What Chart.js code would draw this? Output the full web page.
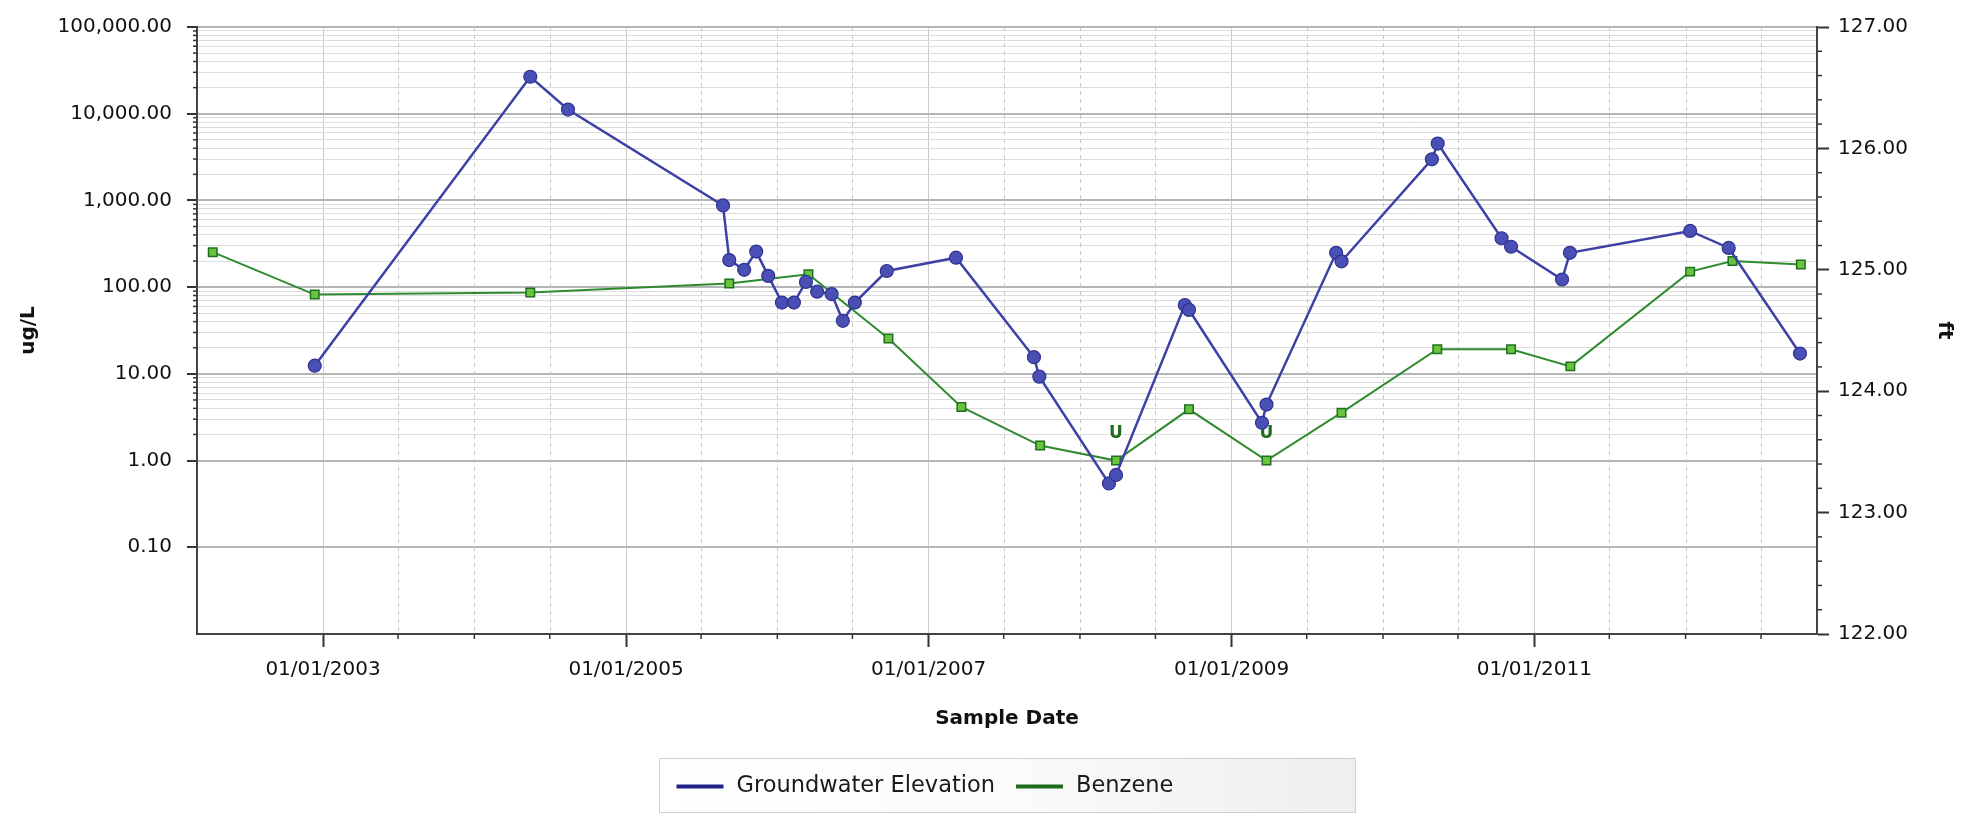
<!DOCTYPE html>
<html>
<head>
<meta charset="utf-8">
<script src="https://cdn.jsdelivr.net/npm/chart.js@4.4.1/dist/chart.umd.min.js"></script>
<style>
html,body{margin:0;padding:0;background:#ffffff;}
canvas{display:block;}
</style>
</head>
<body>
<canvas id="c" width="1980" height="815"></canvas>
<script>
// ---------------- data ----------------
const groundwaterDates = ['2002-12-12','2004-05-15','2004-08-14','2005-08-23','2005-09-07','2005-10-13','2005-11-11','2005-12-10','2006-01-12','2006-02-10','2006-03-11','2006-04-07','2006-05-12','2006-06-08','2006-07-07','2006-09-22','2007-03-08','2007-09-12','2007-09-25','2008-03-11','2008-03-28','2008-09-10','2008-09-20','2009-03-15','2009-03-26','2009-09-10','2009-09-23','2010-04-29','2010-05-13','2010-10-14','2010-11-06','2011-03-09','2011-03-28','2012-01-12','2012-04-14','2012-10-03'];
const groundwaterElevation = [124.21,126.59,126.32,125.53,125.08,125.00,125.15,124.95,124.73,124.73,124.90,124.82,124.80,124.58,124.73,124.99,125.10,124.28,124.12,123.24,123.31,124.71,124.67,123.74,123.89,125.14,125.07,125.91,126.04,125.26,125.19,124.92,125.14,125.32,125.18,124.31];

const benzeneDates = ['2002-04-10','2002-12-12','2004-05-15','2005-09-07','2006-03-17','2006-09-26','2007-03-21','2007-09-27','2008-03-28','2008-09-20','2009-03-26','2009-09-23','2010-05-12','2010-11-06','2011-03-29','2012-01-12','2012-04-23','2012-10-05'];
const benzeneValues = [253,82,87,110,141,25.6,4.15,1.49,1.0,3.9,1.0,3.57,19.2,19.2,12.2,151,200,183];
const benzeneQualifiers = ['','','','','','','','','U','','U','','','','','','',''];

const seriesNames = ['Groundwater Elevation','Benzene'];
const xAxisTitle = 'Sample Date';
const leftAxisTitle = 'ug/L';
const rightAxisTitle = 'ft';
const xRange = ['2002-03-03','2012-11-13'];
const xLabelYears = [2003,2005,2007,2009,2011];
const leftRange = [0.01,100000];
const leftLabelValues = [0.1,1,10,100,1000,10000,100000];
const rightRange = [122,127];
const rightLabelValues = [122,123,124,125,126,127];

// ---------------- helpers ----------------
const FONT = "'DejaVu Sans',sans-serif";
const toMs = s => Date.parse(s + 'T00:00:00Z');
const pad2 = n => (n < 10 ? '0' : '') + n;
function fmtDate(v){ const d = new Date(v); return pad2(d.getUTCMonth()+1) + '/' + pad2(d.getUTCDate()) + '/' + d.getUTCFullYear(); }
function fmt2(v){ const s = v.toFixed(2); const p = s.split('.'); return p[0].replace(/\B(?=(\d{3})+(?!\d))/g, ',') + '.' + p[1]; }
function isMajorX(v){ const d = new Date(v); return d.getUTCMonth() === 0 && d.getUTCDate() === 1 && xLabelYears.indexOf(d.getUTCFullYear()) >= 0; }
function isMajorL(v){ return leftLabelValues.some(t => Math.abs(t - v) / t < 1e-9); }
function isMajorR(v){ return rightLabelValues.some(t => Math.abs(t - v) < 1e-6); }
const NONE = 'rgba(0,0,0,0)';

const gwData = groundwaterDates.map((d,i) => ({x: toMs(d), y: groundwaterElevation[i]}));
const bzData = benzeneDates.map((d,i) => ({x: toMs(d), y: benzeneValues[i]}));

// ---------------- extra drawing ----------------
const extras = {
  id: 'extras',
  beforeDatasetsDraw(chart){
    const ctx = chart.ctx, ca = chart.chartArea, xs = chart.scales.x;
    ctx.save();
    // dashed minor vertical grid lines
    ctx.strokeStyle = '#c6c6c6'; ctx.lineWidth = 1; ctx.setLineDash([4,4]);
    xs.ticks.forEach(t => {
      if (!isMajorX(t.value)) {
        const px = Math.round(xs.getPixelForValue(t.value)) + 0.5;
        ctx.beginPath(); ctx.moveTo(px, ca.top); ctx.lineTo(px, ca.bottom); ctx.stroke();
      }
    });
    ctx.setLineDash([]);
    // qualifier labels (U)
    const meta = chart.getDatasetMeta(1);
    ctx.fillStyle = '#1f6b1f';
    ctx.font = "bold 17px 'DejaVu Sans', sans-serif";
    ctx.textAlign = 'center'; ctx.textBaseline = 'middle';
    benzeneQualifiers.forEach((q,i) => {
      if (q) { const p = meta.data[i]; ctx.fillText(q, p.x, p.y - 27); }
    });
    ctx.restore();
  },
  afterDraw(chart){
    const ctx = chart.ctx, ca = chart.chartArea;
    const xs = chart.scales.x, yl = chart.scales.yL, yr = chart.scales.yR;
    ctx.save();
    ctx.strokeStyle = '#333'; ctx.lineWidth = 1.5;
    // minor tick marks
    xs.ticks.forEach(t => {
      if (!isMajorX(t.value)) {
        const px = xs.getPixelForValue(t.value);
        ctx.beginPath(); ctx.moveTo(px, ca.bottom); ctx.lineTo(px, ca.bottom + 5); ctx.stroke();
      }
    });
    yl.ticks.forEach(t => {
      if (!isMajorL(t.value) && t.value >= 1) {
        const py = yl.getPixelForValue(t.value);
        ctx.beginPath(); ctx.moveTo(ca.left, py); ctx.lineTo(ca.left - 4, py); ctx.stroke();
      }
    });
    yr.ticks.forEach(t => {
      if (!isMajorR(t.value)) {
        const py = yr.getPixelForValue(t.value);
        ctx.beginPath(); ctx.moveTo(ca.right, py); ctx.lineTo(ca.right + 5, py); ctx.stroke();
      }
    });
    // legend box
    const cx = (ca.left + ca.right) / 2;
    const bw = 696, bh = 54;
    const bx = Math.round(cx - bw / 2) + 0.5, by = Math.round(ca.bottom + 124) + 0.5;
    const g = ctx.createLinearGradient(bx, 0, bx + bw, 0);
    g.addColorStop(0, '#ffffff'); g.addColorStop(0.5, '#fbfbfb'); g.addColorStop(1, '#eeeeee');
    ctx.fillStyle = g; ctx.fillRect(bx, by, bw, bh);
    ctx.strokeStyle = '#cfcfcf'; ctx.lineWidth = 1; ctx.strokeRect(bx, by, bw, bh);
    const legendColors = ['#1e2586', '#1c6c1c'];
    ctx.font = "22.5px 'DejaVu Sans', sans-serif";
    ctx.textAlign = 'left'; ctx.textBaseline = 'middle';
    let x = bx + 17;
    const ly = by + 28;
    seriesNames.forEach((name, i) => {
      ctx.strokeStyle = legendColors[i]; ctx.lineWidth = 4;
      ctx.beginPath(); ctx.moveTo(x, ly); ctx.lineTo(x + 47, ly); ctx.stroke();
      ctx.fillStyle = '#1a1a1a';
      ctx.fillText(name, x + 60, ly);
      x += 60 + ctx.measureText(name).width + 21;
    });
    ctx.restore();
  }
};

// ---------------- chart ----------------
new Chart(document.getElementById('c'), {
  type: 'line',
  data: {
    datasets: [
      {
        label: seriesNames[0], yAxisID: 'yR', data: gwData,
        borderColor: '#3d41a6', borderWidth: 2.5, tension: 0, fill: false,
        pointRadius: 6.5, pointBackgroundColor: '#4a4fb5', pointBorderColor: '#2f338f', pointBorderWidth: 1.2
      },
      {
        label: seriesNames[1], yAxisID: 'yL', data: bzData,
        borderColor: '#2e8b2e', borderWidth: 2, tension: 0, fill: false,
        pointStyle: 'rect', pointRadius: 6, pointBackgroundColor: '#67c43c', pointBorderColor: '#1f6f1f', pointBorderWidth: 1.5
      }
    ]
  },
  options: {
    responsive: false, animation: false, devicePixelRatio: 1,
    layout: { padding: { top: 20, left: 0, right: 0, bottom: 81 } },
    plugins: { legend: { display: false }, tooltip: { enabled: false }, title: { display: false } },
    scales: {
      x: {
        type: 'linear', position: 'bottom',
        min: toMs(xRange[0]), max: toMs(xRange[1]),
        afterFit: s => { s.height = 100; },
        afterBuildTicks: s => {
          const ticks = [];
          for (let y = 2002; y <= 2013; y++) {
            for (const m of [0, 6]) {
              const v = Date.UTC(y, m, 1);
              if (v >= Date.UTC(xLabelYears[0], 0, 1) && v <= s.max) ticks.push({ value: v });
            }
          }
          s.ticks = ticks;
        },
        ticks: { autoSkip: false, maxRotation: 0, minRotation: 0, padding: 11, color: '#111', font: { family: FONT, size: 20 },
                 callback: v => isMajorX(v) ? fmtDate(v) : '' },
        grid: { drawOnChartArea: true, lineWidth: 1, tickLength: 13, tickWidth: 2,
                color: c => (c.tick && isMajorX(c.tick.value)) ? '#cccccc' : NONE,
                tickColor: c => (c.tick && isMajorX(c.tick.value)) ? '#333' : NONE },
        border: { display: true, color: '#444', width: 2 },
        title: { display: true, text: xAxisTitle, color: '#111', font: { family: FONT, size: 20, weight: 'bold' }, padding: { top: 0, bottom: 3 } }
      },
      yL: {
        type: 'logarithmic', position: 'left', min: leftRange[0], max: leftRange[1],
        afterFit: s => { s.width = 197; },
        afterBuildTicks: s => {
          const ticks = [];
          for (let e = -2; e <= 5; e++) {
            const base = Math.pow(10, e);
            ticks.push({ value: base });
            if (e >= 0 && e < 5) for (let k = 2; k <= 9; k++) ticks.push({ value: k * base });
          }
          s.ticks = ticks;
        },
        ticks: { autoSkip: false, padding: 15, color: '#111', font: { family: FONT, size: 20 },
                 callback: v => isMajorL(v) ? fmt2(v) : '' },
        grid: { lineWidth: c => (c.tick && isMajorL(c.tick.value)) ? 2 : 1, tickLength: 10, tickWidth: 2,
                color: c => { if (!c.tick) return NONE; const v = c.tick.value; if (isMajorL(v)) return '#b5b5b5'; return v >= 1 ? '#dcdcdc' : NONE; },
                tickColor: c => (c.tick && isMajorL(c.tick.value)) ? '#333' : NONE },
        border: { display: true, color: '#444', width: 2 },
        title: { display: true, text: leftAxisTitle, color: '#111', font: { family: FONT, size: 20, weight: 'bold' }, padding: { top: 17, bottom: 0 } }
      },
      yR: {
        type: 'linear', position: 'right', min: rightRange[0], max: rightRange[1],
        afterFit: s => { s.width = 163; },
        afterBuildTicks: s => {
          const ticks = [];
          for (let i = 0; i <= (rightRange[1] - rightRange[0]) * 5; i++) ticks.push({ value: Math.round((rightRange[0] + i / 5) * 100) / 100 });
          s.ticks = ticks;
        },
        ticks: { autoSkip: false, padding: 9, color: '#111', font: { family: FONT, size: 20 },
                 callback: v => isMajorR(v) ? fmt2(v) : '' },
        grid: { drawOnChartArea: false, tickLength: 12, tickWidth: 2,
                tickColor: c => (c.tick && isMajorR(c.tick.value)) ? '#333' : NONE },
        border: { display: true, color: '#444', width: 2 },
        title: { display: true, text: rightAxisTitle, color: '#111', font: { family: FONT, size: 20, weight: 'bold' }, padding: { top: 24, bottom: 0 } }
      }
    }
  },
  plugins: [extras]
});
</script>
</body>
</html>
